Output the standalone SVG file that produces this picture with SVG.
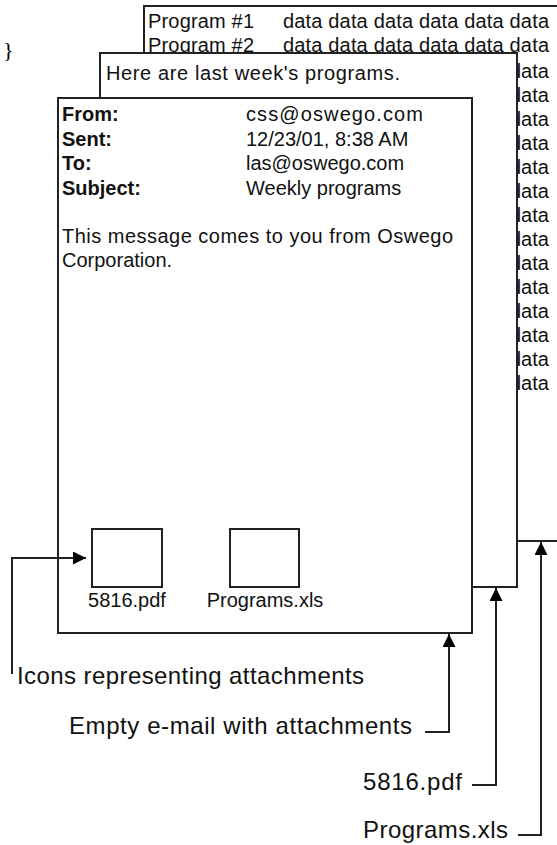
<svg xmlns="http://www.w3.org/2000/svg" width="557" height="845" viewBox="0 0 557 845">
<defs>
<style>
.page{fill:#fff;stroke:#222;stroke-width:2}
.icon{fill:#fff;stroke:#222;stroke-width:2}
.t{font-family:"Liberation Sans",Arial,sans-serif;font-size:20px;fill:#111}
.b{font-weight:bold}
.lbl{font-family:"Liberation Sans",Arial,sans-serif;font-size:24px;fill:#111}
.con{fill:none;stroke:#222;stroke-width:2}
</style>
<marker id="ah" viewBox="0 0 12 12" refX="12" refY="6" markerWidth="13" markerHeight="13" markerUnits="userSpaceOnUse" orient="auto">
<path d="M0,0 L12,6 L0,12 Z" fill="#000"/>
</marker>
</defs>
<rect width="557" height="845" fill="#fff"/>
<text x="3" y="57" style="font-family:'Liberation Serif',serif;font-size:22px" fill="#000">}</text>

<g id="programs-xls">
<rect class="page" x="144" y="6" width="420" height="535"/>
<text class="t" x="148" y="28" textLength="106">Program #1</text>
<text class="t" x="283" y="28" textLength="266">data data data data data data</text>
<text class="t" x="148" y="52" textLength="106">Program #2</text>
<text class="t" x="283" y="52" textLength="266">data data data data data data</text>
<text class="t" x="510" y="78">data</text>
<text class="t" x="510" y="102">data</text>
<text class="t" x="510" y="126">data</text>
<text class="t" x="510" y="150">data</text>
<text class="t" x="510" y="174">data</text>
<text class="t" x="510" y="198">data</text>
<text class="t" x="510" y="222">data</text>
<text class="t" x="510" y="246">data</text>
<text class="t" x="510" y="270">data</text>
<text class="t" x="510" y="294">data</text>
<text class="t" x="510" y="318">data</text>
<text class="t" x="510" y="342">data</text>
<text class="t" x="510" y="366">data</text>
<text class="t" x="510" y="390">data</text>
</g>

<g id="pdf-5816">
<rect class="page" x="100" y="53" width="417" height="534"/>
<text class="t" x="106" y="80" textLength="294">Here are last week's programs.</text>
</g>

<g id="email">
<rect class="page" x="58" y="98" width="414" height="535"/>
<text class="t b" x="62" y="121">From:</text>
<text class="t b" x="62" y="146">Sent:</text>
<text class="t b" x="62" y="170">To:</text>
<text class="t b" x="62" y="195">Subject:</text>
<text class="t" x="246" y="121" textLength="177">css@oswego.com</text>
<text class="t" x="246" y="146">12/23/01, 8:38 AM</text>
<text class="t" x="246" y="170">las@oswego.com</text>
<text class="t" x="246" y="195">Weekly programs</text>
<text class="t" x="62" y="243" textLength="391">This message comes to you from Oswego</text>
<text class="t" x="62" y="267">Corporation.</text>
<g id="icon-pdf">
<rect class="icon" x="92" y="529" width="70" height="58"/>
<text class="t" x="127" y="607" text-anchor="middle">5816.pdf</text>
</g>
<g id="icon-xls">
<rect class="icon" x="230" y="529" width="69" height="58"/>
<text class="t" x="265" y="607" text-anchor="middle">Programs.xls</text>
</g>
</g>

<g id="labels">
<text class="lbl" x="17" y="684" textLength="347">Icons representing attachments</text>
<text class="lbl" x="69" y="734" textLength="343">Empty e-mail with attachments</text>
<text class="lbl" x="363" y="790" textLength="99">5816.pdf</text>
<text class="lbl" x="363" y="838" textLength="145">Programs.xls</text>
</g>

<g id="connectors">
<path class="con" d="M12,674 V558 H86" marker-end="url(#ah)"/>
<path class="con" d="M425,732 H449 V634" marker-end="url(#ah)"/>
<path class="con" d="M472,785 H496 V588" marker-end="url(#ah)"/>
<path class="con" d="M518,835 H541 V542" marker-end="url(#ah)"/>
</g>
</svg>
